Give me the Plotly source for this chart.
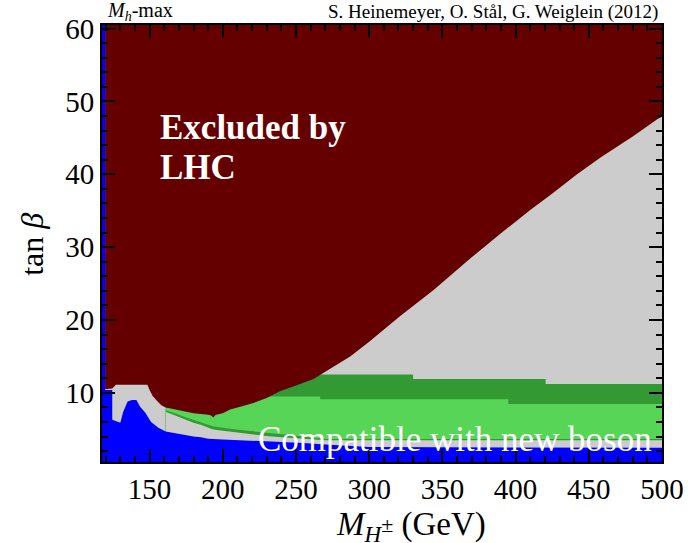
import plotly.graph_objects as go

# ---------------- data (boundaries) ----------------
x_range = [117.5, 500]
y_range = [0.5, 60.5]

# top of blue region (lowest tan beta)
blue_x = [117.5, 119.6, 119.6, 124.5, 124.5, 128, 130, 132, 135, 138, 141, 143.5, 147, 151, 156,
          161, 166, 170, 175, 180, 185, 190, 200, 212, 228, 240, 255, 270, 285, 300, 500]
blue_y = [60.5, 60.5, 10.4, 10.4, 6.3, 6.0, 5.9, 7.4, 8.8, 9.0, 9.0, 8.1, 7.3, 6.0, 5.2,
          4.7, 4.5, 4.4, 4.1, 4.0, 3.9, 3.7, 3.6, 3.5, 3.4, 3.3, 3.1, 2.9, 2.7, 2.55, 2.45]

# top of the lower grey strip (= bottom of lower dark-green stripe)
grey_low_x = [161, 166, 170, 175, 180, 185, 190, 193, 196, 200, 205, 212, 220, 228, 240, 255, 270, 500]
grey_low_y = [7.4, 7.0, 6.6, 6.2, 5.9, 5.6, 5.2, 5.0, 4.9, 4.8, 4.6, 4.5, 4.3, 4.1, 3.9, 3.7, 3.5, 3.5]

# bottom of the light-green region (= top of lower dark-green stripe)
lg_bot_x = [161, 166, 170, 175, 180, 185, 190, 193, 196, 200, 205, 212, 220, 228, 240, 255, 270, 500]
lg_bot_y = [7.6, 7.3, 7.0, 6.6, 6.3, 6.0, 5.6, 5.4, 5.3, 5.2, 5.05, 4.9, 4.7, 4.5, 4.3, 4.0, 3.65, 3.65]

# top of the light-green region
lg_top_x = [161, 231, 231, 266.5, 266.5, 395, 395, 500]
lg_top_y = [12.0, 12.0, 9.5, 9.5, 9.1, 9.1, 8.45, 8.45]

# top of the upper dark-green band
dg_top_x = [161, 330, 330, 420.5, 420.5, 500]
dg_top_y = [12.5, 12.5, 11.9, 11.9, 11.2, 11.2]

# lower edge of the LHC exclusion
lhc_x = [119.6, 124.5, 127, 148.5, 150, 152, 155, 158, 161, 166, 170, 175, 180, 190, 192, 193.5,
         195, 200, 205, 212, 221, 230, 239, 250, 262, 275, 287, 300, 321, 344, 355, 370, 390,
         410, 424, 442, 458, 480, 497, 500]
lhc_y = [10.5, 10.6, 11.1, 11.1, 10.4, 9.6, 8.9, 8.3, 8.0, 7.8, 7.6, 7.4, 7.2, 7.0, 6.9, 6.6,
         6.95, 7.2, 7.7, 8.1, 8.6, 9.3, 10.2, 11.0, 11.9, 13.5, 15.0, 17.0, 20.5, 24.1, 26.0, 28.6, 31.9,
         35.1, 37.2, 40.0, 42.3, 45.2, 47.6, 47.9]

x_ticks = [150, 200, 250, 300, 350, 400, 450, 500]
y_ticks = [10, 20, 30, 40, 50, 60]

# ---------------- styling ----------------
RED = "#650000"
GREY = "#cccccc"
DGREEN = "#339933"
LGREEN = "#57d557"
BLUE = "#0000ff"
FONT = "Liberation Serif"

fig = go.Figure()

def area(x, y, color, fill="tozeroy"):
    fig.add_trace(go.Scatter(x=x, y=y, mode="lines", line=dict(width=0, color=color),
                             fill=fill, fillcolor=color, hoverinfo="skip", showlegend=False))

area(dg_top_x, dg_top_y, DGREEN)
area(lg_top_x, lg_top_y, LGREEN)
area(lg_bot_x, lg_bot_y, DGREEN)
area(grey_low_x, grey_low_y, GREY)
area(blue_x, blue_y, BLUE)
# LHC excluded region: between the exclusion edge and the top of the plot
fig.add_trace(go.Scatter(x=lhc_x, y=lhc_y, mode="lines", line=dict(width=0, color=RED),
                         hoverinfo="skip", showlegend=False))
fig.add_trace(go.Scatter(x=[lhc_x[0], lhc_x[-1]], y=[y_range[1], y_range[1]], mode="lines",
                         line=dict(width=0, color=RED), fill="tonexty", fillcolor=RED,
                         hoverinfo="skip", showlegend=False))

axis_common = dict(showgrid=False, zeroline=False, showline=True, linecolor="black", linewidth=2,
                   mirror="allticks", ticks="inside", tickcolor="black", tickwidth=2, ticklen=13,
                   tickfont=dict(family=FONT, size=29, color="black"))

fig.update_xaxes(range=x_range, tickvals=x_ticks,
                 minor=dict(dtick=10, tick0=0, ticks="inside", ticklen=6, tickwidth=1.5,
                            tickcolor="black", showgrid=False),
                 **axis_common)
fig.update_yaxes(range=y_range, tickvals=y_ticks,
                 minor=dict(dtick=2, tick0=0, ticks="inside", ticklen=6, tickwidth=1.5,
                            tickcolor="black", showgrid=False),
                 **axis_common)

fig.update_layout(template="none", width=688, height=543, margin=dict(l=102, r=26, t=25, b=81),
                  paper_bgcolor="white", plot_bgcolor=GREY, showlegend=False,
                  font=dict(family=FONT, color="black"))

ann = []
ann.append(dict(text="<i>M</i><sub><i>h</i></sub>-max", xref="paper", yref="paper", x=0.005, y=1.03,
                xanchor="left", yanchor="middle", showarrow=False, font=dict(size=20, family=FONT)))
ann.append(dict(text="S. Heinemeyer, O. Stål, G. Weiglein (2012)", xref="paper", yref="paper", x=0.997, y=1.03,
                xanchor="right", yanchor="middle", showarrow=False, font=dict(size=19, family=FONT)))
ann.append(dict(text="<b>Excluded by</b>", x=156, y=46.4, xanchor="left", yanchor="middle",
                showarrow=False, font=dict(size=35, family=FONT, color="white")))
ann.append(dict(text="<b>LHC</b>", x=156, y=40.9, xanchor="left", yanchor="middle",
                showarrow=False, font=dict(size=35, family=FONT, color="white")))
ann.append(dict(text="Compatible with new boson", x=358.5, y=3.6, xanchor="center", yanchor="middle",
                showarrow=False, font=dict(size=35, family=FONT, color="white")))
ann.append(dict(text="<i>M</i><sub><i>H</i><sup><span style='font-size:22px'>±</span></sup></sub> (GeV)",
                xref="paper", yref="paper",
                x=0.552, y=-0.148, xanchor="center", yanchor="middle", showarrow=False,
                font=dict(size=33, family=FONT)))
ann.append(dict(text="tan <i>β</i>", xref="paper", yref="paper", x=-0.125, y=0.497, textangle=-90,
                xanchor="center", yanchor="middle", showarrow=False, font=dict(size=32, family=FONT)))
fig.update_layout(annotations=ann)

fig.write_html("out.html")
